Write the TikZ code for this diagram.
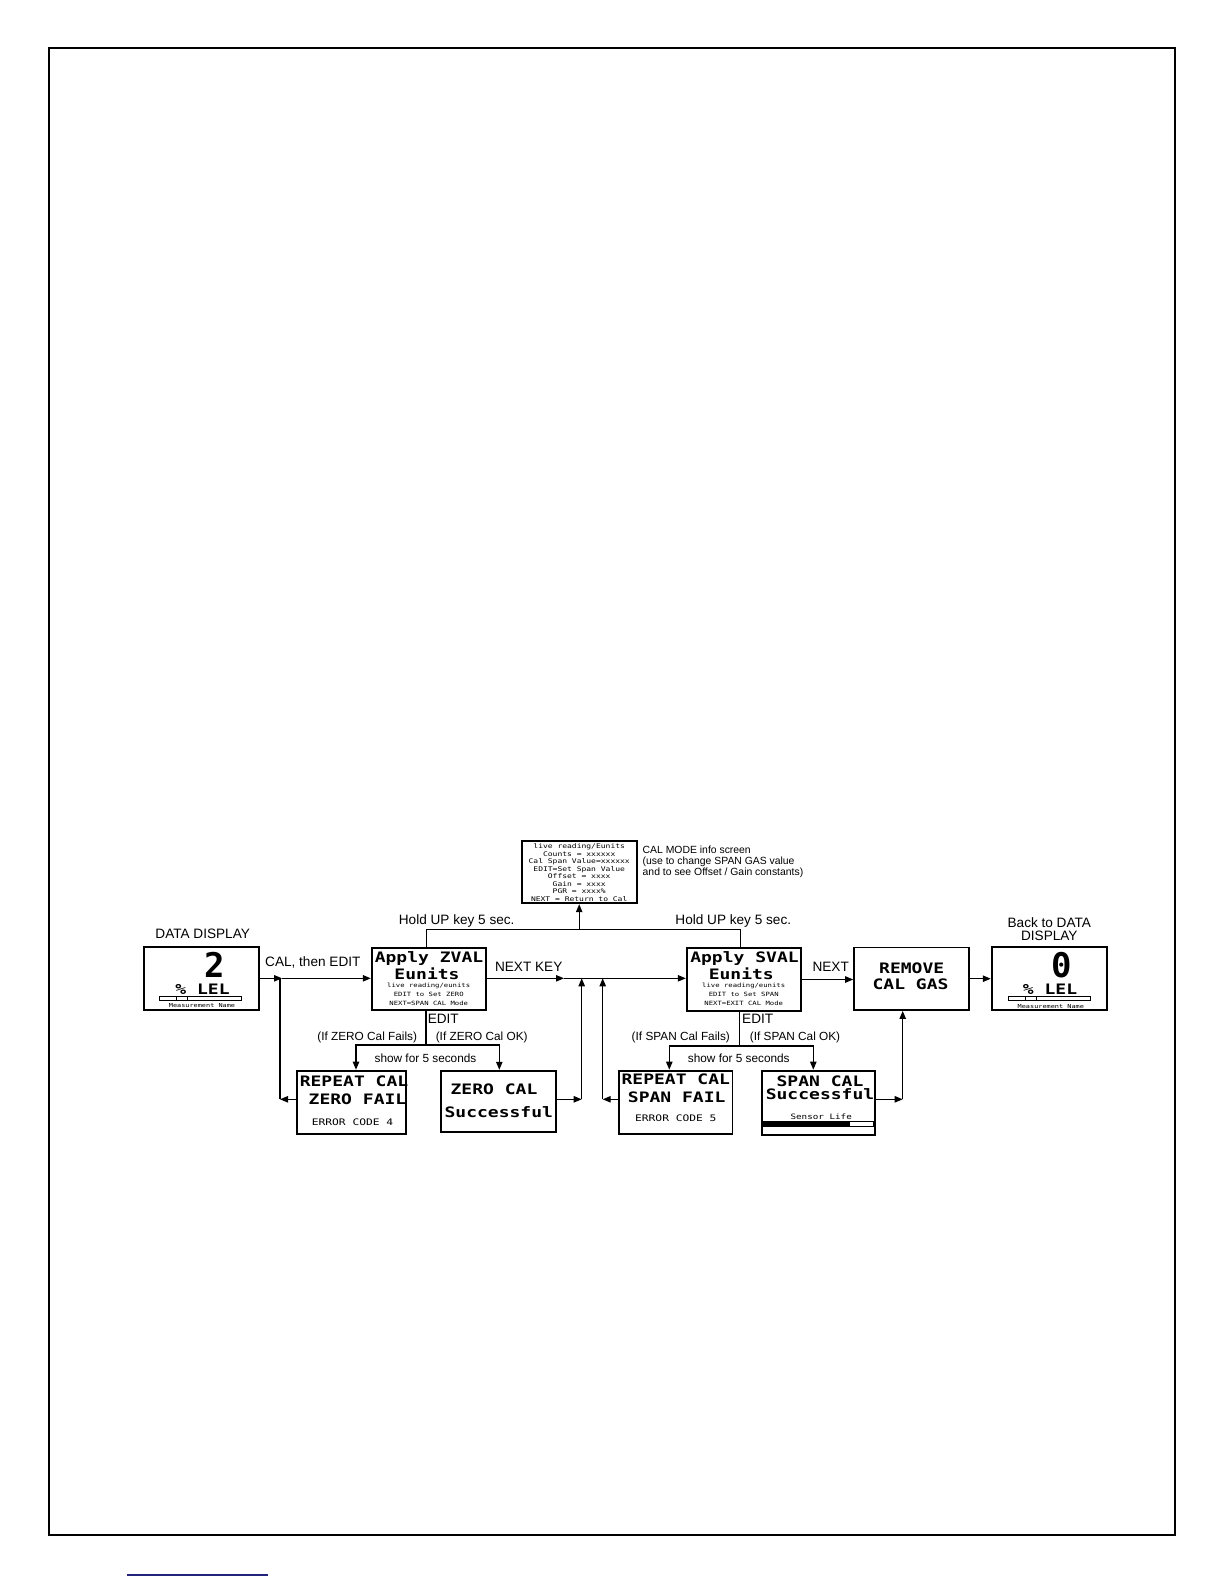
\documentclass[tikz,border=0pt]{standalone}
\usepackage{fontspec}
\setmainfont{Liberation Sans}
\newfontfamily\lcdfont[FakeStretch=1.25]{DejaVu Sans Mono}
\newfontfamily\digitfont{DejaVu Sans Mono}
\usetikzlibrary{arrows.meta}
\definecolor{footblue}{RGB}{35,35,125}
\tikzset{flow/.style={-{Triangle[length=4pt,width=3.2pt]}, line width=0.6pt},
  wire/.style={line width=0.6pt},
  scr/.style={draw, line width=0.9pt, inner sep=0pt},
  lbl/.style={inner sep=0pt, text depth=0pt, align=center, font=\fontsize{6.8}{6.2}\selectfont},
  note/.style={inner sep=0pt, text depth=0pt, font=\fontsize{5.9}{7}\selectfont},
  lcd/.style={inner sep=0pt, text depth=0pt, font=\lcdfont\bfseries\fontsize{7.2}{8}\selectfont},
  lcdsm/.style={inner sep=0pt, align=center, font=\lcdfont\fontsize{2.9}{4.5}\selectfont},
  digit/.style={inner sep=0pt, text depth=0pt, font=\digitfont\bfseries\fontsize{17}{17}\selectfont}}

\begin{document}
\begin{tikzpicture}[x=0.5pt, y=-0.5pt]
  \useasboundingbox (0,0) rectangle (1224,1584);
  \draw[line width=1pt] (48.5,48.5) rectangle (1175,1535);
  \draw[footblue, line width=0.8pt] (127,1575) -- (268,1575);

  % screens
  \node[scr, minimum width=57.5pt, minimum height=31.5pt] (dd) at (201.8,978.3) {};
  \node[scr, minimum width=57pt, minimum height=31.2pt] (zval) at (428.7,978.8) {};
  \node[scr, minimum width=57pt, minimum height=31.5pt] (sval) at (743.7,979.5) {};
  \node[scr, minimum width=57.6pt, minimum height=31.3pt] (rmv) at (911.7,978.7) {};
  \node[scr, minimum width=57.5pt, minimum height=31.6pt] (back) at (1049.2,978.3) {};
  \node[scr, minimum width=57.5pt, minimum height=31.3pt] (info) at (579.2,872) {};
  \node[scr, minimum width=54.7pt, minimum height=31.7pt] (rzero) at (351.3,1102.3) {};
  \node[scr, minimum width=57.7pt, minimum height=30.5pt] (zok) at (498.3,1101.2) {};
  \node[scr, minimum width=56.7pt, minimum height=31.7pt] (rspan) at (675.7,1102.3) {};
  \node[scr, minimum width=56.7pt, minimum height=32.2pt] (sok) at (818.3,1102.8) {};

  % data display
  \node[lbl] (dd-title) at (202.7,934) {DATA DISPLAY};
  \node[digit] (dd-val) at (215,965) {2};
  \node[lcd] (dd-unit) at (202.5,989) {\% LEL};
  \draw[line width=0.5pt] (159,996) rectangle (241.7,1000) (176,996) -- (176,1000) (187.7,996) -- (187.7,1000);
  \node[lcdsm, font=\lcdfont\fontsize{2.75}{3}\selectfont] (dd-name) at (202,1006) {Measurement Name};

  % zero / span prompts
  \node[lcd] (zval-l1) at (429,956.7) {Apply ZVAL};
  \node[lcd] (zval-l2) at (427,974) {Eunits};
  \node[lcdsm] (zval-l3) at (428.7,994.2) {live reading/eunits\\EDIT to Set ZERO\\NEXT=SPAN CAL Mode};
  \node[lcd] (sval-l1) at (744.5,956.7) {Apply SVAL};
  \node[lcd] (sval-l2) at (741.3,974) {Eunits};
  \node[lcdsm] (sval-l3) at (743.7,994.2) {live reading/eunits\\EDIT to Set SPAN\\NEXT=EXIT CAL Mode};
  \node[lcd] (rmv-l1) at (911.7,968.5) {REMOVE};
  \node[lcd] (rmv-l2) at (910.5,984.2) {CAL GAS};

  % info screen
  \node[lcdsm, font=\lcdfont\fontsize{3.2}{3.75}\selectfont] (info-txt) at (579.2,872.5)
    {live reading/Eunits\\Counts  = xxxxxx\\Cal Span Value=xxxxxx\\EDIT=Set Span Value\\Offset = xxxx\\Gain = xxxx\\PGR = xxxx\%\\NEXT = Return to Cal};
  \node[inner sep=0pt, align=left, anchor=north west, font=\fontsize{5.2}{5.4}\selectfont] (info-note) at (642.3,846)
    {CAL MODE info screen\\(use to change SPAN GAS value\\and to see Offset / Gain constants)};

  % result screens
  \node[lcd] (rzero-l1) at (354,1081) {REPEAT CAL};
  \node[lcd] (rzero-l2) at (357.5,1099) {ZERO FAIL};
  \node[lcd, font=\lcdfont\fontsize{4.5}{5}\selectfont] (rzero-l3) at (352.5,1121.7) {ERROR CODE 4};
  \node[lcd] (zok-l1) at (494,1089.3) {ZERO CAL};
  \node[lcd] (zok-l2) at (498.8,1111.7) {Successful};
  \node[lcd] (rspan-l1) at (675.8,1079.3) {REPEAT CAL};
  \node[lcd] (rspan-l2) at (676.7,1096.7) {SPAN FAIL};
  \node[lcd, font=\lcdfont\fontsize{4.5}{5}\selectfont] (rspan-l3) at (675.8,1118.3) {ERROR CODE 5};
  \node[lcd] (sok-l1) at (820,1081) {SPAN CAL};
  \node[lcd] (sok-l2) at (820,1094.3) {Successful};
  \node[lcd, font=\lcdfont\fontsize{3.7}{4}\selectfont] (sok-l3) at (821.2,1116.7) {Sensor Life};
  \draw[line width=0.5pt] (762.7,1121.7) rectangle (873.3,1126);
  \fill (762.7,1121.7) rectangle (850,1126);

  % back to data display
  \node[lbl] (back-title) at (1049.3,929) {Back to DATA\\DISPLAY};
  \node[digit] (back-val) at (1061.7,965) {0};
  \node[lcd] (back-unit) at (1050,989) {\% LEL};
  \draw[line width=0.5pt] (1008.3,996.7) rectangle (1090,1000.7) (1025.7,996.7) -- (1025.7,1000.7) (1036.7,996.7) -- (1036.7,1000.7);
  \node[lcdsm, font=\lcdfont\fontsize{2.75}{3}\selectfont] (back-name) at (1050.8,1006.7) {Measurement Name};

  % labels
  \node[lbl] (cal-edit) at (312.8,961.7) {CAL, then EDIT};
  \node[lbl] (hold-z) at (456.7,919.3) {Hold UP key 5 sec.};
  \node[lbl] (hold-s) at (733.3,919.3) {Hold UP key 5 sec.};
  \node[lbl] (next-key) at (528.7,966.7) {NEXT KEY};
  \node[lbl] (next) at (830.7,966.7) {NEXT};
  \node[lbl] (edit-z) at (443.3,1019.3) {EDIT};
  \node[lbl] (edit-s) at (757.7,1019) {EDIT};
  \node[note] (zfail) at (367.2,1036) {(If ZERO Cal Fails)};
  \node[note] (zpass) at (481.7,1036) {(If ZERO Cal OK)};
  \node[note] (zshow) at (425.5,1058.3) {show for 5 seconds};
  \node[note] (sfail) at (680.8,1036) {(If SPAN Cal Fails)};
  \node[note] (spass) at (795,1036) {(If SPAN Cal OK)};
  \node[note] (sshow) at (738.8,1058) {show for 5 seconds};

  % junctions
  \coordinate (jz) at (282,978.3);
  \coordinate (mid) at (564,978.3);
  \coordinate (rzturn) at (280,1099.3);
  \coordinate (zokturn) at (581.7,1099.3);
  \coordinate (rsturn) at (602.7,1099.3);
  \coordinate (sokturn) at (902.7,1099.3);
  \coordinate (holdL) at (426.7,929.3);
  \coordinate (holdR) at (740.7,929.3);
  \coordinate (ez) at (426,1045);
  \coordinate (ezL) at (356,1045);
  \coordinate (ezR) at (499.3,1045);
  \coordinate (es) at (739.3,1046);
  \coordinate (esL) at (669.3,1046);
  \coordinate (esR) at (813.3,1046);

  % connectors
  \draw[flow] (dd.east) -- (jz);
  \draw[flow] (jz) -- (jz -| zval.west);
  \draw[flow] (zval.east |- mid) -- (mid);
  \draw[flow] (mid) -- (mid -| sval.west);
  \draw[flow] (sval.east) -- (sval.east -| rmv.west);
  \draw[flow] (rmv.east) -- (rmv.east -| back.west);
  \draw[wire] (holdL |- zval.north) -- (holdL) -- (holdR) -- (holdR |- sval.north);
  \draw[flow] (info.south |- holdL) -- (info.south);
  \draw[wire] (ez |- zval.south) -- (ez);
  \draw[flow] (ez) -- (ezL) -- (ezL |- rzero.north);
  \draw[flow] (ez) -- (ezR) -- (ezR |- zok.north);
  \draw[wire] (es |- sval.south) -- (es);
  \draw[flow] (es) -- (esL) -- (esL |- rspan.north);
  \draw[flow] (es) -- (esR) -- (esR |- sok.north);
  \draw[flow] (rzero.west |- rzturn) -- (rzturn);
  \draw[line width=1.1pt] (rzturn) -- (rzturn |- jz);
  \draw[flow] (zok.east |- zokturn) -- (zokturn);
  \draw[flow] (zokturn) -- (zokturn |- mid);
  \draw[flow] (rspan.west |- rsturn) -- (rsturn);
  \draw[flow] (rsturn) -- (rsturn |- mid);
  \draw[flow] (sok.east |- sokturn) -- (sokturn);
  \draw[flow] (sokturn) -- (sokturn |- rmv.south);
\end{tikzpicture}
\end{document}
